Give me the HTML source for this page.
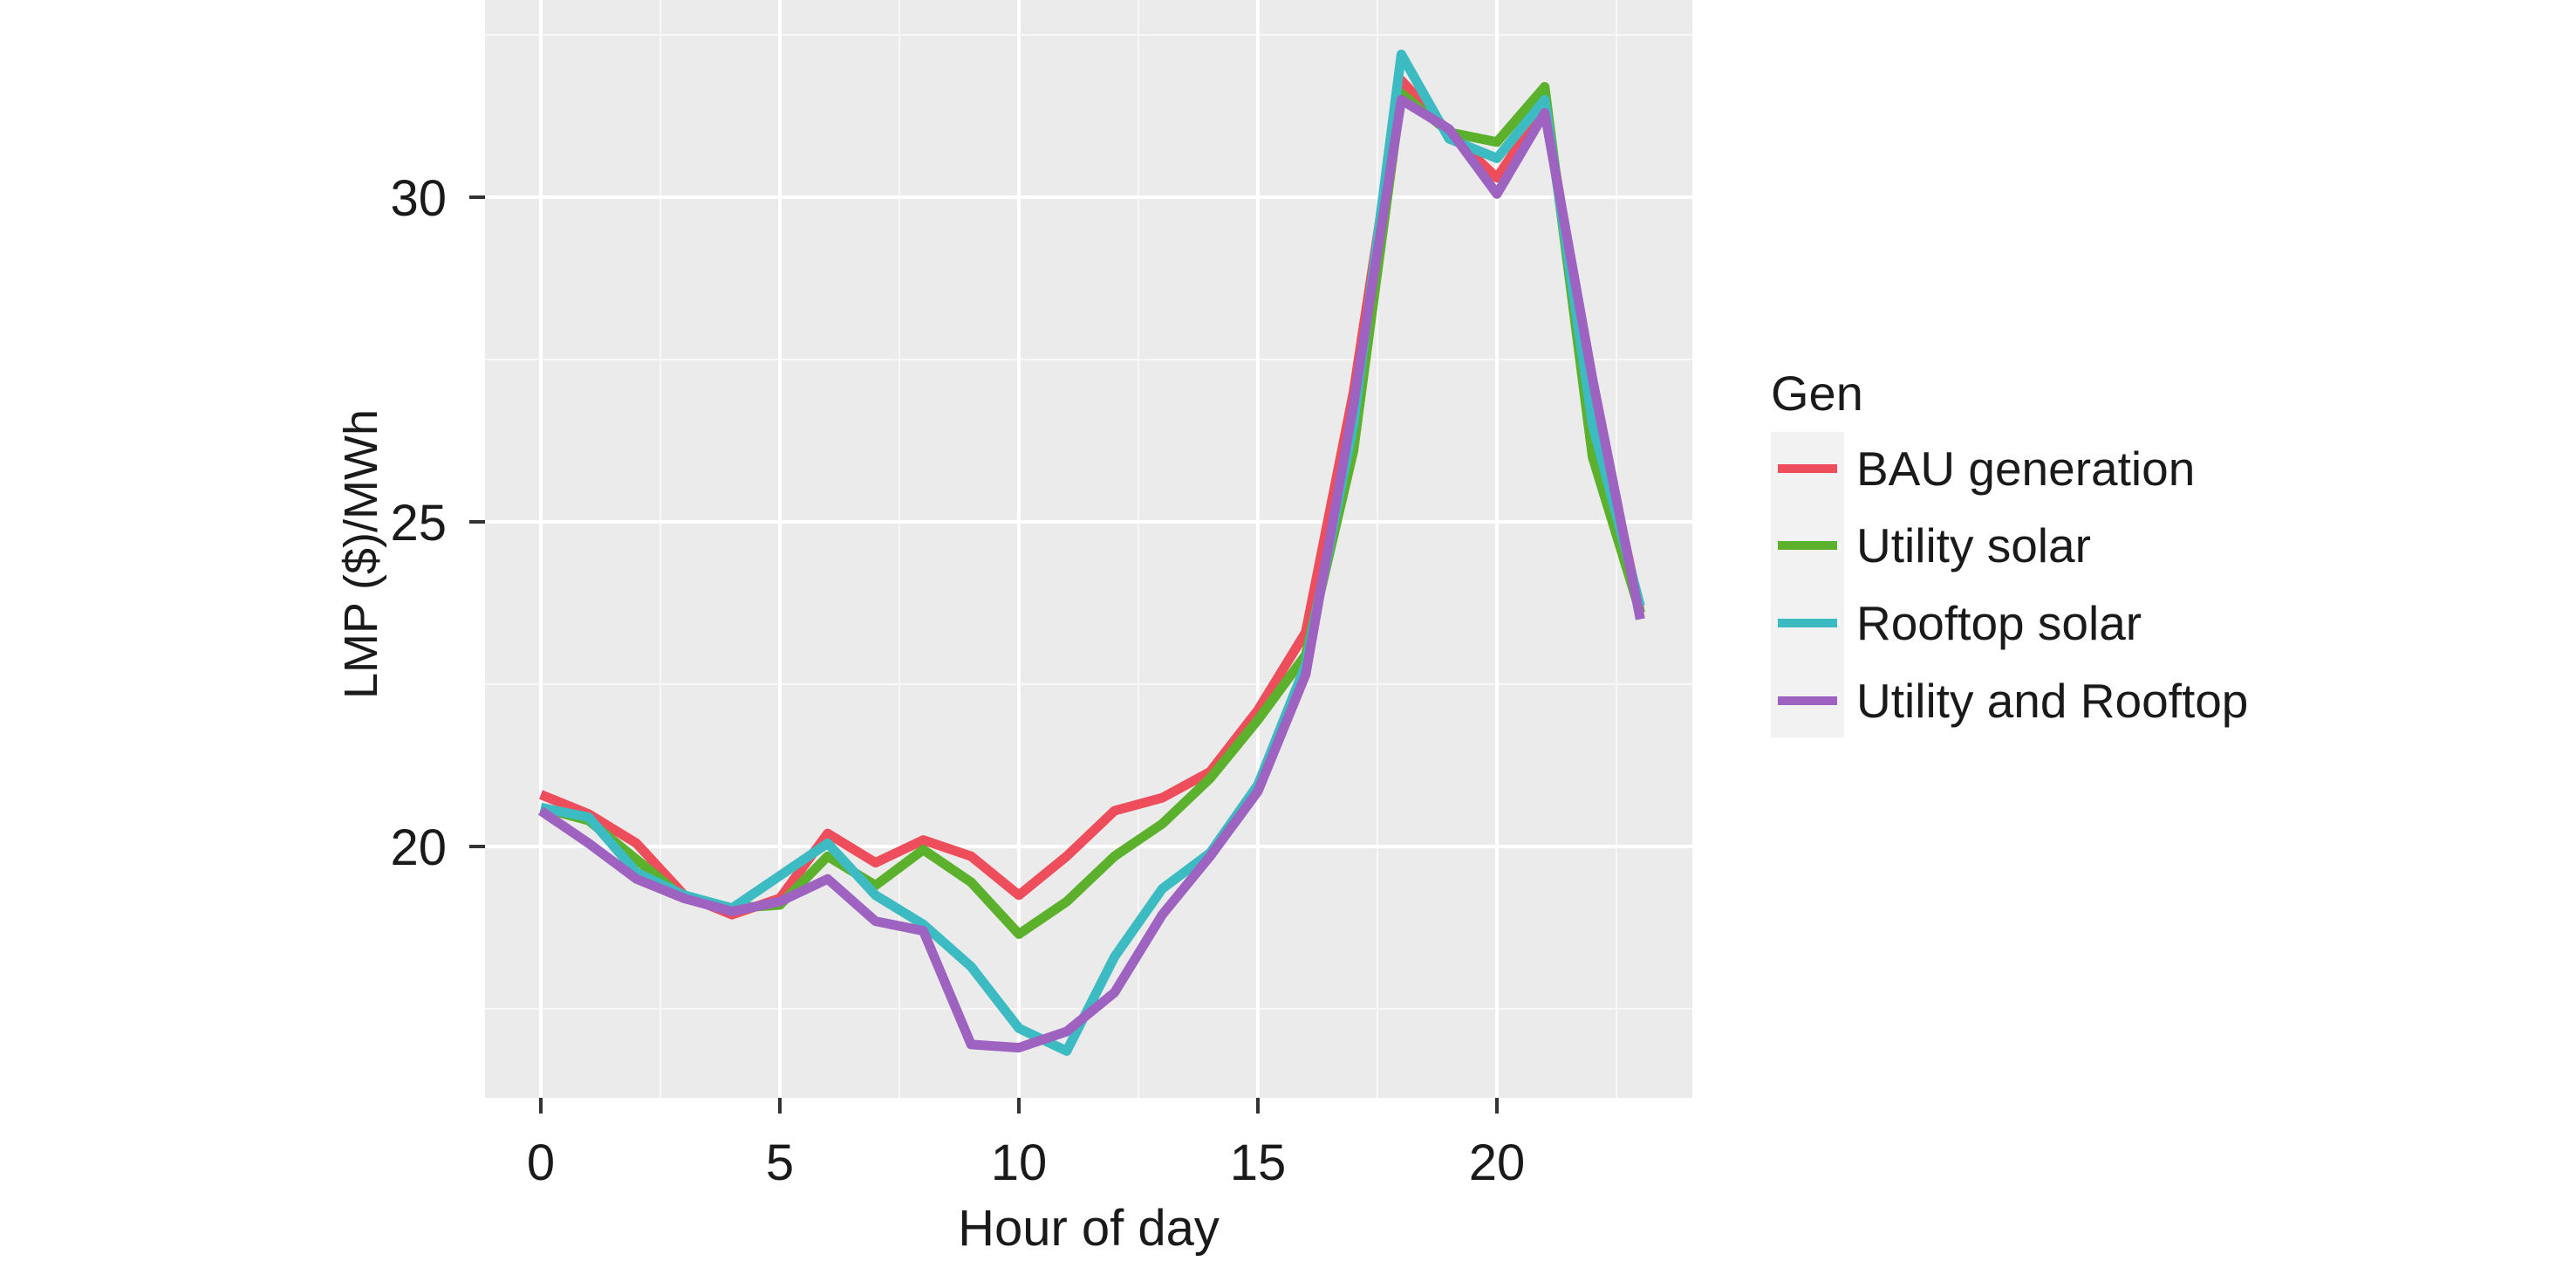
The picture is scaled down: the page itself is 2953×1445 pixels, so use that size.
<!DOCTYPE html>
<html><head><meta charset="utf-8"><style>
html,body{margin:0;padding:0;background:#fff;}
svg{display:block;}
text{font-family:"Liberation Sans",sans-serif;fill:#1a1a1a;}
</style></head><body>
<svg width="2953" height="1445" viewBox="0 0 2953 1445" xmlns="http://www.w3.org/2000/svg">
<rect x="556" y="0" width="1384" height="1258" fill="#ebebeb"/>
<g stroke="#f7f7f7" stroke-width="2">
<line x1="556" x2="1940" y1="40" y2="40"/><line x1="556" x2="1940" y1="412" y2="412"/>
<line x1="556" x2="1940" y1="784" y2="784"/><line x1="556" x2="1940" y1="1156" y2="1156"/>
<line y1="0" y2="1258" x1="757" x2="757"/><line y1="0" y2="1258" x1="1031" x2="1031"/>
<line y1="0" y2="1258" x1="1305" x2="1305"/><line y1="0" y2="1258" x1="1579" x2="1579"/>
<line y1="0" y2="1258" x1="1853" x2="1853"/>
</g>
<g stroke="#ffffff" stroke-width="4">
<line x1="556" x2="1940" y1="226" y2="226"/><line x1="556" x2="1940" y1="598" y2="598"/>
<line x1="556" x2="1940" y1="970" y2="970"/>
<line y1="0" y2="1258" x1="620" x2="620"/><line y1="0" y2="1258" x1="894" x2="894"/>
<line y1="0" y2="1258" x1="1168" x2="1168"/><line y1="0" y2="1258" x1="1442" x2="1442"/>
<line y1="0" y2="1258" x1="1716" x2="1716"/>
</g>
<g stroke="#333" stroke-width="4">
<line x1="538" x2="556" y1="226" y2="226"/><line x1="538" x2="556" y1="598" y2="598"/><line x1="538" x2="556" y1="970" y2="970"/>
<line y1="1258" y2="1276" x1="620" x2="620"/><line y1="1258" y2="1276" x1="894" x2="894"/><line y1="1258" y2="1276" x1="1168" x2="1168"/><line y1="1258" y2="1276" x1="1442" x2="1442"/><line y1="1258" y2="1276" x1="1716" x2="1716"/>
</g>
<g font-size="58" text-anchor="end">
<text x="512" y="247">30</text><text x="512" y="619">25</text><text x="512" y="991">20</text>
</g>
<g font-size="58" text-anchor="middle">
<text x="620" y="1352">0</text><text x="894" y="1352">5</text><text x="1168" y="1352">10</text><text x="1442" y="1352">15</text><text x="1716" y="1352">20</text>
<text x="1248" y="1427">Hour of day</text>
<text transform="translate(432,635) rotate(-90)" font-size="54">LMP ($)/MWh</text>
</g>
<g fill="none" stroke-width="11" stroke-linejoin="round" id="lines"></g>
<text x="2030" y="470" font-size="56">Gen</text>
<rect x="2030" y="495" width="84" height="350" fill="#f2f2f2"/>
<g stroke-width="10">
<line x1="2038" x2="2106" y1="537" y2="537" stroke="#ee4d5b"/>
<line x1="2038" x2="2106" y1="625" y2="625" stroke="#5bb02c"/>
<line x1="2038" x2="2106" y1="714" y2="714" stroke="#3cbcc2"/>
<line x1="2038" x2="2106" y1="803" y2="803" stroke="#9e62c0"/>
</g>
<g font-size="55">
<text x="2128" y="556">BAU generation</text>
<text x="2128" y="644">Utility solar</text>
<text x="2128" y="733">Rooftop solar</text>
<text x="2128" y="822">Utility and Rooftop</text>
</g>
</svg>
<script>
var S=[["#ee4d5b",[20.8,20.5,20.05,19.25,18.95,19.2,20.2,19.75,20.1,19.85,19.25,19.85,20.55,20.75,21.15,22.1,23.3,27,31.8,31.0,30.3,31.4,27,23.6]],
["#5bb02c",[20.6,20.4,19.8,19.2,19.05,19.1,19.85,19.4,19.95,19.45,18.65,19.15,19.85,20.35,21.05,21.95,22.95,26.1,31.6,31.0,30.85,31.7,26.0,23.6]],
["#3cbcc2",[20.6,20.45,19.6,19.25,19.05,19.55,20.05,19.25,18.8,18.15,17.2,16.85,18.3,19.35,19.9,20.95,22.8,26.5,32.2,30.9,30.6,31.5,26.5,23.7]],
["#9e62c0",[20.55,20.05,19.5,19.2,19.0,19.15,19.5,18.85,18.7,16.95,16.9,17.15,17.75,18.95,19.85,20.85,22.65,26.8,31.5,31.05,30.05,31.3,27.2,23.5]]];
var g=document.getElementById("lines"),ns="http://www.w3.org/2000/svg";
S.forEach(function(s){var p=document.createElementNS(ns,"polyline");
p.setAttribute("points",s[1].map(function(v,i){return (620+i*54.8).toFixed(1)+","+(970-(v-20)*74.4).toFixed(1)}).join(" "));
p.setAttribute("stroke",s[0]);g.appendChild(p);});
</script>
</body></html>
